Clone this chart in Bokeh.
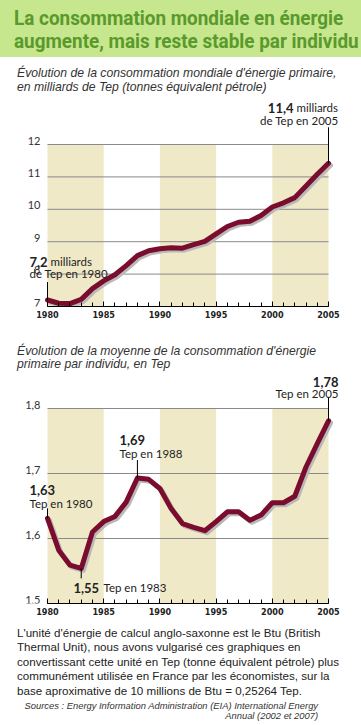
from bokeh.plotting import figure
from bokeh.models import Label, BoxAnnotation, SingleIntervalTicker, Range1d, Div
from bokeh.core.properties import value
from bokeh.layouts import column
from bokeh.embed import file_html
from bokeh.resources import INLINE

# ---------------- data ----------------
years = list(range(1980, 2006))
world_tep = [7.20, 7.10, 7.09, 7.22, 7.55, 7.79, 7.98, 8.26, 8.57, 8.72,
             8.78, 8.81, 8.80, 8.91, 9.01, 9.24, 9.47, 9.60, 9.63, 9.81,
             10.07, 10.20, 10.36, 10.72, 11.08, 11.42]
per_capita_tep = [1.631, 1.582, 1.559, 1.554, 1.610, 1.626, 1.634, 1.656, 1.693, 1.691,
                  1.677, 1.646, 1.623, 1.617, 1.612, 1.626, 1.641, 1.641, 1.628, 1.636,
                  1.655, 1.655, 1.665, 1.710, 1.746, 1.781]
world_ticks = [7, 8, 9, 10, 11, 12]
world_tick_labels = ["7", "8", "9", "10", "11", "12"]
capita_ticks = [1.5, 1.6, 1.7, 1.8]
capita_tick_labels = ["1,5", "1,6", "1,7", "1,8"]
band_starts = [1980, 1990, 2000]
band_width = 5

title_lines = ["La consommation mondiale en énergie",
               "augmente, mais reste stable par individu"]
sub1 = ["Évolution de la consommation mondiale d'énergie primaire,",
        "en milliards de Tep (tonnes équivalent pétrole)"]
sub2 = ["Évolution de la moyenne de la consommation d'énergie",
        "primaire par individu, en Tep"]
footer = ["L'unité d'énergie de calcul anglo-saxonne est le Btu (British",
          "Thermal Unit), nous avons vulgarisé ces graphiques en",
          "convertissant cette unité en Tep (tonne équivalent pétrole) plus",
          "communément utilisée en France par les économistes, sur la",
          "base aproximative de 10 millions de Btu = 0,25264 Tep."]
sources = ["Sources : Energy Information Administration (EIA) International Energy",
           "Annual (2002 et 2007)"]

# ---------------- style ----------------
W = 361
GREEN_BG = "#c6e78e"
GREEN_TXT = "#5a992b"
TAN = "#efe9c7"
MAROON = "#7a0c2e"
SHADOW = "#b9b9b9"
GRID = "#8a8a8a"
TXT = "#222222"
SANS = "Lato"
BODY = "'Liberation Sans', Arial, sans-serif"
NARROW = "DejaVu Sans Condensed, Roboto"
PLOT_L, PLOT_R = 47, 33          # px from figure edges to 1980 / 2005


def div(html, h):
    return Div(text=html, width=W, height=h, margin=(0, 0, 0, 0))


header = div(
    f'<div style="width:{W}px;height:57px;background:{GREEN_BG};overflow:hidden;'
    f'padding:7px 0 0 14px;box-sizing:border-box;">'
    f'<div style="font-family:Roboto;font-weight:bold;font-size:21px;'
    f'line-height:23px;color:{GREEN_TXT};white-space:nowrap;transform:scaleX(0.9);'
    f'transform-origin:left top;">' + "<br>".join(title_lines) + '</div></div>', 57)

sub_style = (f'font-family:{BODY};font-style:italic;font-size:12.2px;line-height:13.8px;'
             'color:#333;white-space:nowrap;')
subA = div(f'<div style="padding:10px 0 0 17px;{sub_style}">' + "<br>".join(sub1) + '</div>', 39)
subB = div(f'<div style="padding:14.5px 0 0 17px;{sub_style}">' + "<br>".join(sub2) + '</div>', 42)

foot = div(
    f'<div style="padding:1px 0 0 17px;font-family:{BODY};font-size:11.6px;line-height:14.4px;'
    'color:#222;white-space:nowrap;">' + "<br>".join(footer) + '</div>'
    f'<div style="padding:2.5px 21px 0 0;text-align:right;font-family:{BODY};font-style:italic;'
    'font-size:9.4px;line-height:10.6px;color:#333;white-space:nowrap;">'
    + "<br>".join(sources) + '</div>', 100)


def make_chart(height, bottom, head_px, ticks, tick_labels, values):
    ppy = (W - PLOT_L - PLOT_R) / (years[-1] - years[0])
    x0 = years[0] - PLOT_L / ppy
    x1 = years[-1] + PLOT_R / ppy
    frame_h = height - bottom
    y_lo, y_top = ticks[0], ticks[-1]
    ppu = (frame_h - head_px) / (y_top - y_lo)
    y_hi = y_top + head_px / ppu
    p = figure(width=W, height=height, x_range=Range1d(x0, x1), y_range=Range1d(y_lo, y_hi),
               y_axis_type=None, output_backend="svg", toolbar_location=None,
               min_border_left=0, min_border_right=0, min_border_top=0,
               min_border_bottom=bottom)
    p.outline_line_color = None
    p.background_fill_color = "white"
    p.border_fill_color = "white"
    p.xgrid.visible = False
    for b in band_starts:
        p.add_layout(BoxAnnotation(left=b, right=b + band_width, bottom=y_lo, top=y_top,
                                   fill_color=TAN, fill_alpha=1, line_color=None,
                                   level="underlay"))
    # horizontal grid lines over the plotting span
    gt = ticks[1:]
    p.segment(x0=[years[0]] * len(gt), x1=[years[-1]] * len(gt), y0=gt, y1=gt,
              line_color=GRID, line_width=1)
    # y tick labels
    p.text(x=[years[0]] * len(ticks), y=ticks, text=tick_labels, x_offset=-7,
           text_align="right", text_baseline="bottom", text_font=value(SANS),
           text_font_size="11px", text_color="#333333")
    xa = p.xaxis[0]
    xa.bounds = (years[0], years[-1])
    xa.ticker = SingleIntervalTicker(interval=5, num_minor_ticks=5)
    xa.major_tick_in = 5
    xa.major_tick_out = 0
    xa.minor_tick_in = 4
    xa.minor_tick_out = 0
    xa.axis_line_color = "black"
    xa.major_tick_line_color = "black"
    xa.minor_tick_line_color = "black"
    xa.major_label_text_font = NARROW
    xa.major_label_text_font_style = "bold"
    xa.major_label_text_font_size = "9px"
    xa.major_label_text_color = TXT
    xa.major_label_standoff = 4
    # shadow + line
    dx = 2 / ppy
    dy = 2 / ppu
    p.line([x + dx for x in years], [v - dy for v in values], line_width=5,
           line_color=SHADOW, line_join="round", line_cap="round")
    p.line(years, values, line_width=5, line_color=MAROON, line_join="round",
           line_cap="round")

    def at(px, py):
        return x0 + px / ppy, y_hi - py / ppu

    def lab(px, py, text, size="11.5px", style="normal", align="left"):
        x, y = at(px, py)
        p.add_layout(Label(x=x, y=y, text=text, text_font=SANS, text_font_size=size,
                           text_font_style=style, text_align=align,
                           text_baseline="middle", text_color=TXT))

    def leader(year, px):
        v = values[years.index(year)]
        p.segment(x0=[year], x1=[year], y0=[v], y1=[v + px / ppu],
                  line_color="black", line_width=1)

    return p, lab, leader


# ---------------- chart A ----------------
pA, labA, leadA = make_chart(234, 24, 48, world_ticks, world_tick_labels, world_tep)
leadA(2005, 36)
leadA(1980, 18)
labA(293, 11, "11,4", size="13px", style="bold", align="right")
labA(296, 11, "milliards")
labA(338, 24, "de Tep en 2005", align="right")
labA(29, 165, "7,2", size="13px", style="bold")
labA(50, 165, "milliards")
labA(29, 177, "de Tep en 1980")

# ---------------- chart B ----------------
pB, labB, leadB = make_chart(253, 22, 36, capita_ticks, capita_tick_labels, per_capita_tep)
leadB(2005, 24)
leadB(1988, 18)
leadB(1980, 10)
leadB(1983, -10)
labB(338, 9, "1,78", size="13px", style="bold", align="right")
labB(338, 21, "Tep en 2005", align="right")
labB(119, 67, "1,69", size="13px", style="bold")
labB(119, 81, "Tep en 1988")
labB(29, 117, "1,63", size="13px", style="bold")
labB(29, 131, "Tep en 1980")
labB(73, 215, "1,55", size="13px", style="bold")
labB(103, 215, "Tep en 1983")

layout = column(header, subA, pA, subB, pB, foot, spacing=0)
open("out.html", "w").write(file_html(layout, INLINE))
